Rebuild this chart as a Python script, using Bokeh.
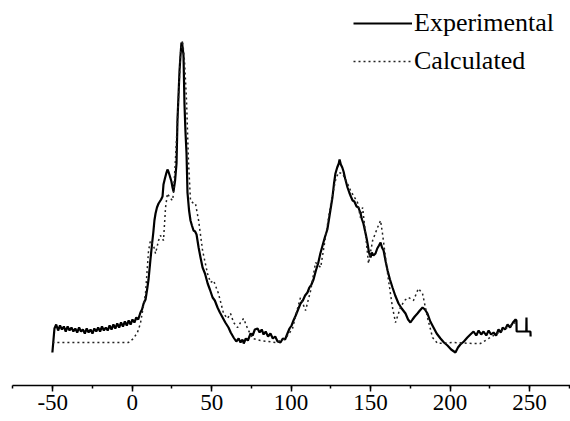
from bokeh.plotting import figure
from bokeh.models import Range1d, SingleIntervalTicker, Legend, LegendItem
from bokeh.embed import file_html
from bokeh.resources import INLINE

# Experimental spectrum (x in ppm-like units, intensity in arbitrary units)
exp_x = [-50.2, -48.9, -47.8, -46.6, -45.4, -44.2, -43.0, -41.8, -40.6, -39.4, -38.2, -37.0,
         -35.8, -34.6, -33.4, -32.2, -31.0, -29.8, -28.6, -27.4, -26.2, -25.0, -23.8, -22.6,
         -21.4, -20.2, -19.0, -17.8, -16.6, -15.4, -14.2, -13.0, -11.8, -10.6, -9.4, -8.2,
         -7.0, -5.8, -4.6, -3.4, -2.2, -1.0, 0.2, 1.4, 2.6, 3.8, 5.2, 6.2, 7.2, 8.4, 9.4, 10.3,
         11.5, 12.4, 13.3, 14.0, 14.7, 15.6, 16.6, 17.4, 18.2, 19.1, 19.7, 20.6, 21.6, 22.2,
         22.8, 23.6, 24.7, 25.4, 26.0, 27.0, 27.9, 28.5, 29.2, 29.8, 30.4, 31.0, 31.6, 32.3,
         32.9, 33.5, 34.2, 34.8, 35.8, 36.7, 37.6, 38.6, 39.6, 40.5, 41.2, 41.8, 43.0, 44.3,
         45.8, 47.5, 48.9, 50.6, 52.0, 53.7, 55.2, 56.9, 58.6, 60.6, 62.0, 63.8, 65.5, 67.0,
         68.2, 69.4, 70.2, 71.5, 72.8, 74.5, 75.8, 77.2, 78.9, 80.2, 81.5, 82.7, 84.0, 85.5,
         87.0, 88.5, 90.0, 91.5, 93.3, 94.8, 96.2, 97.7, 99.0, 100.3, 101.5, 102.9, 104.4,
         105.9, 107.4, 108.8, 110.3, 111.5, 112.8, 114.1, 115.6, 117.0, 118.4, 119.8, 121.2,
         122.8, 124.4, 126.0, 127.0, 127.9, 129.0, 130.0, 130.5, 131.3, 132.2, 133.0, 134.0,
         135.5, 136.6, 137.6, 138.7, 139.8, 141.2, 142.4, 143.7, 144.6, 145.5, 146.6, 147.4,
         148.1, 149.0, 150.0, 150.8, 151.8, 153.1, 154.2, 155.3, 156.3, 157.2, 158.2, 159.5,
         160.7, 162.2, 163.8, 165.5, 167.6, 169.6, 172.0, 173.6, 175.1, 176.4, 177.8, 179.5,
         181.0, 182.7, 184.2, 185.8, 187.6, 189.6, 191.6, 194.0, 196.2, 198.4, 200.7, 203.4,
         205.0, 206.5, 208.7, 210.9, 212.8, 214.8, 216.5, 218.0, 219.6, 221.1, 222.8, 224.3,
         225.8, 227.4, 229.0, 230.5, 232.0, 233.1, 234.6, 236.2, 237.8, 239.6, 241.2, 241.8,
         241.9, 248.0, 248.1, 248.2, 250.6, 250.7]
exp_y = [33, 57, 61, 55, 60, 56, 59, 54, 59, 55, 58, 54,
         57, 53, 58, 54, 56, 52, 57, 53, 56, 52, 57, 54,
         58, 54, 59, 55, 58, 55, 60, 56, 61, 57, 62, 58,
         63, 59, 64, 60, 65, 61, 66, 63, 68, 66, 73, 76, 82, 86, 96, 106,
         126, 140, 153, 165, 172, 178, 182, 184, 186, 189, 201, 207, 213, 216,
         214, 210, 204, 198, 194, 205, 222, 265, 292, 315, 330, 343, 340, 330,
         282, 255, 232, 193, 175, 165, 160, 155, 154, 151, 144, 138, 128, 118,
         112, 102, 96, 88, 85, 78, 73, 68, 63, 58, 53, 48, 44, 47,
         43, 46, 42, 47, 45, 52, 50, 56, 57, 53, 56, 51, 54, 49,
         52, 47, 49, 44, 43, 47, 46, 52, 57, 60, 65, 70, 76,
         82, 85, 90, 93, 98, 101, 106, 115, 122, 132, 140, 148,
         156, 172, 188, 202, 212, 218, 222, 226, 221, 218, 214, 207,
         198, 193, 189, 185, 184, 179, 178, 172, 166, 162, 154, 148,
         142, 133, 128, 133, 130, 132, 137, 140, 143, 138, 135, 124,
         115, 106, 98, 90, 82, 77, 72, 66, 63, 66, 69, 72,
         75, 78, 76, 72, 64, 58, 52, 47, 43, 40, 36, 33,
         38, 41, 44, 48, 51, 54, 50, 55, 51, 54, 50, 55,
         51, 53, 50, 56, 53, 58, 56, 61, 58, 63, 66, 65,
         54, 54, 68, 54, 54, 49]

# Calculated spectrum
calc_x = [-50.2, -40.0, -30.0, -20.0, -10.0, -2.3, 0.8, 3.3, 5.2, 8.4, 10.3, 11.5, 13.4,
          14.7, 16.6, 17.8, 19.7, 21.0, 22.2, 24.1, 25.4, 26.0, 27.2, 28.5, 30.4, 31.7,
          32.9, 34.2, 34.8, 35.4, 36.7, 38.6, 39.8, 41.8, 44.3, 47.4, 49.3, 51.2, 54.3,
          57.5, 60.0, 61.9, 63.8, 66.3, 68.2, 70.1, 72.6, 75.8, 80.7, 90.2, 96.5, 100.9,
          102.9, 105.9, 109.1, 112.3, 115.4, 118.6, 123.0, 124.8, 127.9, 129.8, 132.3,
          135.5, 137.4, 141.8, 143.6, 145.0, 146.8, 148.7, 151.3, 154.4, 156.3, 157.5,
          159.4, 161.3, 163.8, 165.7, 168.8, 171.3, 173.8, 177.0, 180.1, 182.7, 185.8,
          189.0, 192.2, 202.2, 214.8, 219.1, 227.4, 235.0, 241.2]
calc_y = [43, 43, 43, 43, 43, 43, 47, 53, 62, 92, 135, 145, 140,
          132, 145, 150, 145, 178, 192, 187, 185, 192, 225, 265, 332, 345,
          325, 285, 255, 225, 185, 182, 182, 165, 135, 112, 103, 105, 92,
          72, 67, 72, 63, 58, 63, 67, 57, 47, 45, 43, 47, 57,
          70, 88, 75, 95, 123, 118, 162, 180, 205, 213, 212,
          202, 195, 183, 168, 178, 152, 122, 145, 158, 165, 152,
          128, 105, 78, 63, 78, 85, 88, 85, 97, 92, 68,
          48, 42, 43, 42, 42, 50, 57, 63]

tick_values = [-50, 0, 50, 100, 150, 200, 250]
tick_labels = ["-50", "0", "50", "100", "150", "200", "250"]

p = figure(width=570, height=421, output_backend="svg", toolbar_location=None,
           x_range=Range1d(-75.3, 275.8), y_range=Range1d(0, 377),
           y_axis_location=None, min_border_left=12, min_border_right=0,
           min_border_top=8, min_border_bottom=36)
p.outline_line_color = None
p.grid.visible = False
p.background_fill_color = "white"
p.border_fill_color = "white"

r_exp = p.line(exp_x, exp_y, line_color="black", line_width=2.2)
r_calc = p.line(calc_x, calc_y, line_color="#222222", line_width=1.5, line_dash="2 3")

ax = p.xaxis[0]
ax.ticker = SingleIntervalTicker(interval=50, num_minor_ticks=2)
ax.major_label_overrides = {v: s for v, s in zip(tick_values, tick_labels)}
ax.axis_line_color = "black"
ax.axis_line_width = 1.5
ax.major_tick_line_color = "black"
ax.major_tick_line_width = 1.5
ax.major_tick_in = 0
ax.major_tick_out = 6
ax.minor_tick_line_color = "black"
ax.minor_tick_line_width = 1.5
ax.minor_tick_in = 0
ax.minor_tick_out = 3
ax.major_label_text_font = "Liberation Serif"
ax.major_label_text_font_size = "23px"
ax.major_label_text_color = "black"
ax.major_label_standoff = 3

legend = Legend(items=[LegendItem(label="Experimental", renderers=[r_exp]),
                       LegendItem(label="Calculated", renderers=[r_calc])],
                location=(341, 309), orientation="vertical",
                glyph_width=59, glyph_height=30, spacing=8, padding=0, margin=0,
                label_standoff=2, label_text_font="Liberation Serif",
                label_text_font_size="26px", label_text_color="black",
                background_fill_alpha=0, border_line_color=None)
p.add_layout(legend)

open("out.html", "w").write(file_html(p, INLINE))
